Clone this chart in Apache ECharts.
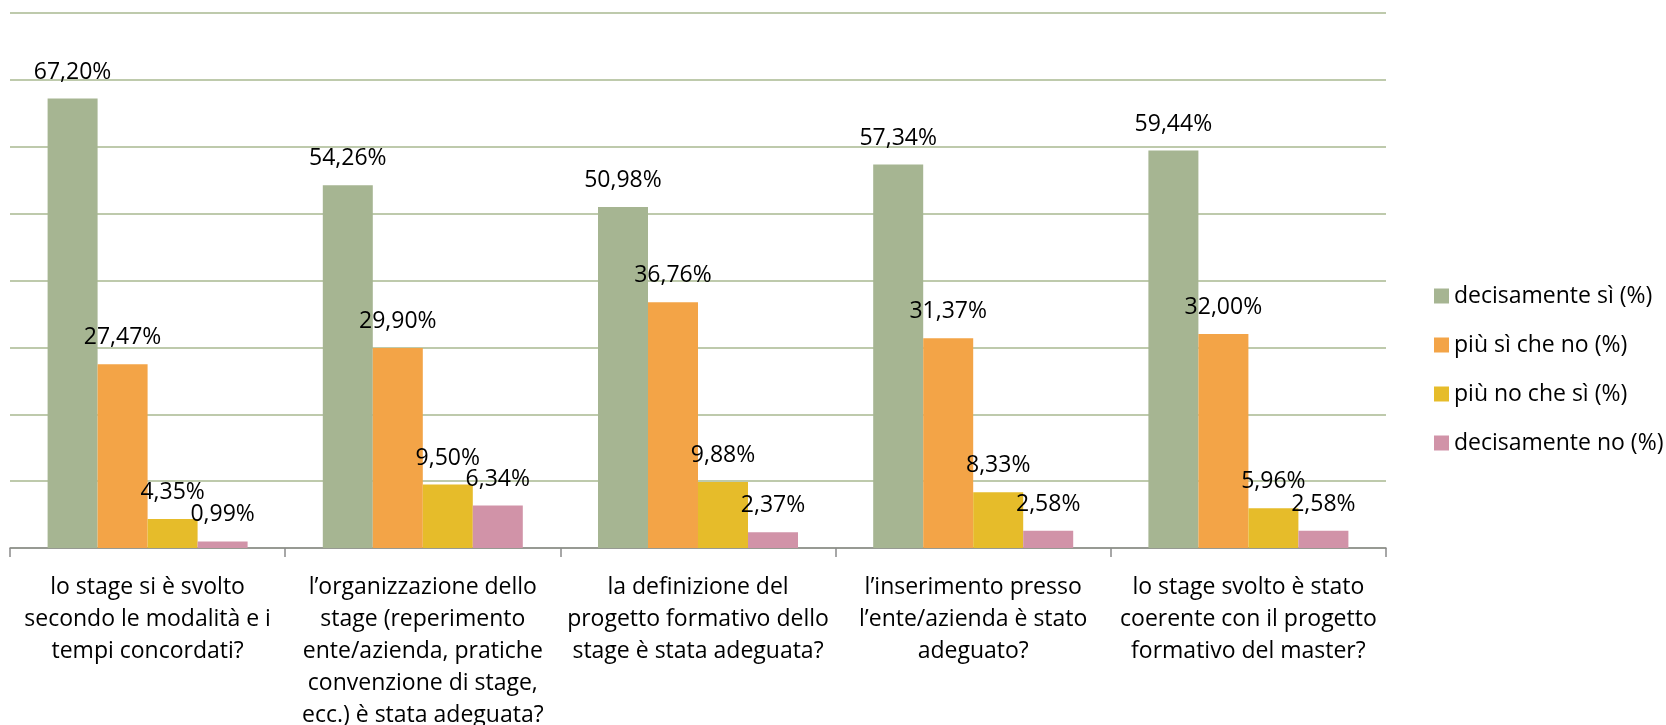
<!DOCTYPE html>
<html>
<head>
<meta charset="utf-8">
<script src="https://cdn.jsdelivr.net/npm/echarts@6/dist/echarts.min.js"></script>
<style>
  html, body { margin: 0; padding: 0; background: #fff; }
  #main { width: 1666px; height: 725px; }
</style>
</head>
<body>
<div id="main"></div>
<script>
var categories = [
  "lo stage si è svolto\nsecondo le modalità e i\ntempi concordati?",
  "l’organizzazione dello\nstage (reperimento\nente/azienda, pratiche\nconvenzione di stage,\necc.) è stata adeguata?",
  "la definizione del\nprogetto formativo dello\nstage è stata adeguata?",
  "l’inserimento presso\nl’ente/azienda è stato\nadeguato?",
  "lo stage svolto è stato\ncoerente con il progetto\nformativo del master?"
];
var seriesNames = ["decisamente sì (%)", "più sì che no (%)", "più no che sì (%)", "decisamente no (%)"];
var decisamenteSi = [67.20, 54.26, 50.98, 57.34, 59.44];
var piuSiCheNo = [27.47, 29.90, 36.76, 31.37, 32.00];
var piuNoCheSi = [4.35, 9.50, 9.88, 8.33, 5.96];
var decisamenteNo = [0.99, 6.34, 2.37, 2.58, 2.58];
var colors = ["#A6B592", "#F3A447", "#E6BC2A", "#D193A8"];

var font = "'Open Sans', sans-serif";

function makeSeries(name, data, color) {
  return {
    name: name,
    type: "bar",
    data: data,
    barWidth: 50,
    barGap: "0%",
    itemStyle: { color: color },
    label: {
      show: true,
      position: "top",
      distance: 15,
      color: "#000",
      fontFamily: font,
      fontSize: 23,
      formatter: function (p) {
        return p.value.toFixed(2).replace(".", ",") + "%";
      }
    }
  };
}

var chart = echarts.init(document.getElementById("main"), null, { renderer: "canvas" });
chart.setOption({
  animation: false,
  textStyle: { fontFamily: font },
  grid: { left: 10, right: 280, top: 13, bottom: 177, containLabel: false, outerBoundsMode: "none" },
  legend: {
    orient: "vertical",
    left: 1429,
    top: 279,
    icon: "rect",
    itemWidth: 15,
    itemHeight: 15,
    itemGap: 25,
    textStyle: { fontFamily: font, fontSize: 23, color: "#000", lineHeight: 24 },
    data: seriesNames
  },
  xAxis: {
    type: "category",
    data: categories,
    axisLine: { lineStyle: { color: "#8A8A8A", width: 1.5 } },
    axisTick: { show: true, length: 9, lineStyle: { color: "#8A8A8A", width: 1.5 } },
    axisLabel: {
      interval: 0,
      margin: 23,
      color: "#000",
      fontFamily: font,
      fontSize: 23,
      lineHeight: 32
    }
  },
  yAxis: {
    type: "value",
    min: 0,
    max: 80,
    interval: 10,
    axisLabel: { show: false },
    axisLine: { show: false },
    axisTick: { show: false },
    splitLine: { lineStyle: { color: "#A9B891", width: 1.5 } }
  },
  series: [
    makeSeries(seriesNames[0], decisamenteSi, colors[0]),
    makeSeries(seriesNames[1], piuSiCheNo, colors[1]),
    makeSeries(seriesNames[2], piuNoCheSi, colors[2]),
    makeSeries(seriesNames[3], decisamenteNo, colors[3])
  ]
});
</script>
</body>
</html>
